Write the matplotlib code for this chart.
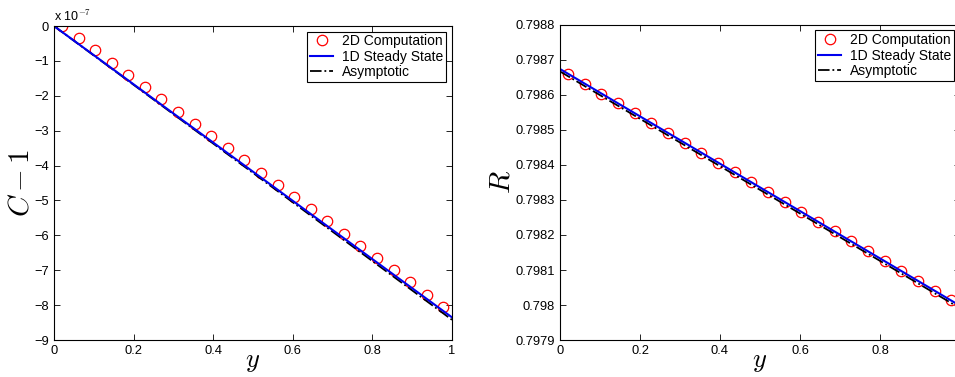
import numpy as np
import matplotlib.pyplot as plt
from matplotlib.ticker import FormatStrFormatter

plt.rcParams['font.family'] = ['Liberation Sans', 'DejaVu Sans']
plt.rcParams['mathtext.fontset'] = 'cm'

# ==== Data ====
y_pts = [0.02, 0.0617, 0.1033, 0.145, 0.1867, 0.2283, 0.27, 0.3117, 0.3533, 0.395,
         0.4367, 0.4783, 0.52, 0.5617, 0.6033, 0.645, 0.6867, 0.7283, 0.77, 0.8117,
         0.8533, 0.895, 0.9367, 0.9783]

# C - 1 in units of 1e-7
c_2d = [0.0, -0.35, -0.70, -1.05, -1.40, -1.75, -2.10, -2.45, -2.80, -3.15,
        -3.50, -3.85, -4.20, -4.55, -4.90, -5.25, -5.60, -5.95, -6.30, -6.65,
        -7.00, -7.35, -7.70, -8.05]
y_line = [0.0, 1.0]
c_1d = [0.0, -8.35]
c_asym = [0.0, -8.42]

r_2d = [0.798660, 0.798632, 0.798604, 0.798576, 0.798548, 0.798520, 0.798491,
        0.798463, 0.798435, 0.798407, 0.798379, 0.798351, 0.798322, 0.798294,
        0.798266, 0.798238, 0.798210, 0.798182, 0.798153, 0.798125, 0.798097,
        0.798069, 0.798041, 0.798013]
r_1d = [0.798674, 0.797998]
r_asym = [0.798667, 0.797991]


def draw_panel(ax, pts, line, asym):
    ax.plot(y_pts, pts, 'o', mfc='none', mec='red', ms=7.5, mew=0.9, label='2D Computation')
    ax.plot(y_line, asym, '-.', color='black', lw=1.3, label='Asymptotic')
    ax.plot(y_line, line, '-', color='#0000ee', lw=1.5, label='1D Steady State')
    ax.tick_params(direction='in', top=True, right=True, labelsize=9.3, length=4, width=0.6)
    for s in ax.spines.values():
        s.set_linewidth(0.8)
    h, l = ax.get_legend_handles_labels()
    leg = ax.legend([h[0], h[2], h[1]], [l[0], l[2], l[1]], loc='upper right',
                    fontsize=10, fancybox=False, edgecolor='black', framealpha=1,
                    borderpad=0.2, labelspacing=0.1, handlelength=1.7,
                    handletextpad=0.65, borderaxespad=0.4)
    leg.get_frame().set_linewidth(0.8)
    ax.set_xlabel('$y$', fontsize=19, labelpad=-5)


fig = plt.figure(figsize=(9.55, 3.77), dpi=100)

# ==== Left panel: C - 1 ====
ax1 = fig.add_axes([0.0565, 0.098, 0.4168, 0.833])
draw_panel(ax1, c_2d, c_1d, c_asym)
ax1.set_xlim(0, 1)
ax1.set_ylim(-9, 0)
ax1.set_xticks([0, 0.2, 0.4, 0.6, 0.8, 1])
ax1.set_xticklabels(['0', '0.2', '0.4', '0.6', '0.8', '1'])
ax1.set_yticks(np.arange(-9, 1))
ax1.set_yticklabels(['\u2212%d' % k for k in range(9, 0, -1)] + ['0'])
ax1.set_ylabel('$C-1$', fontsize=21, labelpad=0)
ax1.text(0.0, 1.005, 'x 10$^{-7}$', transform=ax1.transAxes, fontsize=9,
         ha='left', va='bottom')

# ==== Right panel: R (axes run past the right edge) ====
ax2 = fig.add_axes([0.5864, 0.098, 0.4188, 0.836])
draw_panel(ax2, r_2d, r_1d, r_asym)
ax2.set_xlim(0, 1)
ax2.set_ylim(0.7979, 0.7988)
ax2.set_xticks([0, 0.2, 0.4, 0.6, 0.8])
ax2.set_xticklabels(['0', '0.2', '0.4', '0.6', '0.8'])
ax2.set_yticks(np.linspace(0.7979, 0.7988, 10))
ax2.yaxis.set_major_formatter(FormatStrFormatter('%g'))
ax2.set_ylabel('$R$', fontsize=21, labelpad=0)

fig.savefig('out.png', dpi=100)
